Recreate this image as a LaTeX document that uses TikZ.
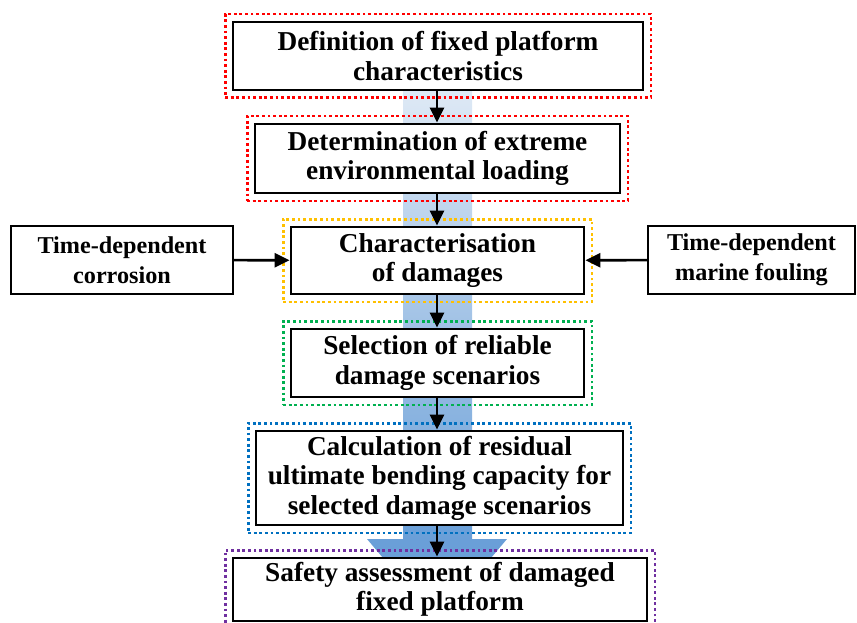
\documentclass[tikz,border=0pt]{standalone}
\usepackage{fontspec}
\setmainfont{Liberation Serif}
\usetikzlibrary{arrows.meta,positioning,fit}

\definecolor{frRed}{RGB}{255,0,0}
\definecolor{frOrange}{RGB}{255,192,0}
\definecolor{frGreen}{RGB}{0,176,80}
\definecolor{frBlue}{RGB}{0,112,192}
\definecolor{frPurple}{RGB}{112,48,160}
\definecolor{arrTop}{RGB}{222,233,245}
\definecolor{arrBot}{RGB}{106,159,216}

\tikzset{
  stepbox/.style={draw,line width=2.8pt,fill=white,align=center,inner sep=0pt,
    font=\bfseries\fontsize{27.3}{29.5}\selectfont},
  sidebox/.style={draw,line width=2pt,fill=white,align=center,inner sep=0pt,
    font=\bfseries\fontsize{24.2}{30}\selectfont},
  frame/.style={draw=#1,line width=2.8pt,dash pattern=on 2.8pt off 2.8pt,inner sep=6.5pt},
  flow/.style={-{Triangle[length=15pt,width=14pt]},line width=2.6pt}
}

\begin{document}
\begin{tikzpicture}[x=1pt,y=-1pt]
  \useasboundingbox (0,0) rectangle (857,623);
  \clip (0,0) rectangle (857,623);

  % big background arrow
  \shade[top color=arrTop,bottom color=arrBot] (403,90) rectangle (472,539);
  \fill[arrBot] (367,539) -- (507,539) -- (437,622) -- cycle;

  \node[stepbox,minimum width=410pt,minimum height=68pt] (def) at (438,56)
    {Definition of fixed platform\\characteristics};
  \node[stepbox,minimum width=365pt,minimum height=69pt] (load) at (437.5,158.5)
    {Determination of extreme\\environmental loading};
  \node[stepbox,minimum width=293pt,minimum height=67pt] (dam) at (437.5,260.5)
    {Characterisation\\of damages};
  \node[sidebox,minimum width=222pt,minimum height=68pt] (corr) at (122,260)
    {Time-dependent\\corrosion};
  \node[sidebox,minimum width=207pt,minimum height=68pt] (foul) at (751.5,260)
    {Time-dependent\\marine fouling};
  \node[stepbox,minimum width=293pt,minimum height=68pt] (sel) at (437.5,363)
    {Selection of reliable\\damage scenarios};
  \node[stepbox,minimum width=367pt,minimum height=94pt] (calc) at (439.5,478)
    {Calculation of residual\\ultimate bending capacity for\\selected damage scenarios};
  \node[stepbox,minimum width=414pt,minimum height=63pt] (safe) at (440,589.5)
    {Safety assessment of damaged\\fixed platform};

  % dotted frames
  \node[frame=frRed,fit=(def)] {};
  \node[frame=frRed,fit=(load)] {};
  \node[frame=frOrange,fit=(dam)] {};
  \node[frame=frGreen,fit=(sel)] {};
  \node[frame=frBlue,fit=(calc)] {};
  \node[frame=frPurple,fit=(safe)] {};

  \draw[flow] (def.south -| 437,0) -- (load.north -| 437,0);
  \draw[flow] (load.south -| 437,0) -- (dam.north -| 437,0);
  \draw[flow] (dam.south -| 437,0) -- (sel.north -| 437,0);
  \draw[flow] (sel.south -| 437,0) -- (calc.north -| 437,0);
  \draw[flow] (calc.south -| 437,0) -- (safe.north -| 437,0);
  \draw[flow] (corr) -- (dam);
  \draw[flow] (foul) -- (dam);
\end{tikzpicture}
\end{document}
